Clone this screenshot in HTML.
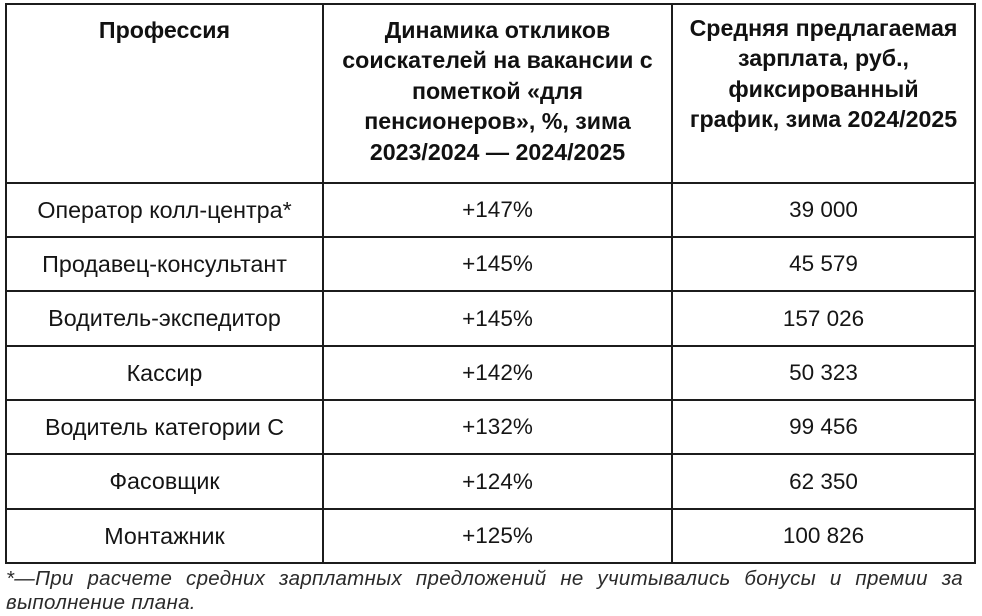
<!DOCTYPE html>
<html>
<head>
<meta charset="utf-8">
<style>
  html, body { margin:0; padding:0; background:#fff; }
  body { width:982px; height:616px; position:relative; overflow:hidden;
         font-family:"Liberation Sans", Arial, sans-serif; color:#111; }
  .h { position:absolute; height:2px; background:#1c1c1c; }
  .v { position:absolute; width:2px; background:#1c1c1c; }
  .hd { position:absolute; top:15px; text-align:center; font-weight:bold;
        font-size:23.2px; line-height:30.4px; white-space:nowrap; color:#111; }
  .c { position:absolute; display:flex; align-items:center; justify-content:center;
       font-size:22.5px; white-space:nowrap; color:#151515; }
  .c1 { font-size:23.3px; }
  .fn { position:absolute; left:6px; font-style:italic; font-size:20.5px; color:#2a2a2a;
        white-space:nowrap; letter-spacing:0.3px; }
</style>
</head>
<body>
  <!-- horizontal lines -->
  <div class="h" style="left:5px;width:971px;top:3px;"></div>
  <div class="h" style="left:5px;width:971px;top:182px;"></div>
  <div class="h" style="left:5px;width:971px;top:236px;"></div>
  <div class="h" style="left:5px;width:971px;top:290px;"></div>
  <div class="h" style="left:5px;width:971px;top:345px;"></div>
  <div class="h" style="left:5px;width:971px;top:399px;"></div>
  <div class="h" style="left:5px;width:971px;top:453px;"></div>
  <div class="h" style="left:5px;width:971px;top:508px;"></div>
  <div class="h" style="left:5px;width:971px;top:562px;"></div>
  <!-- vertical lines -->
  <div class="v" style="left:5px;top:3px;height:561px;"></div>
  <div class="v" style="left:322px;top:3px;height:561px;"></div>
  <div class="v" style="left:671px;top:3px;height:561px;"></div>
  <div class="v" style="left:974px;top:3px;height:561px;"></div>

  <!-- header -->
  <div class="hd" style="left:7px;width:315px;top:15px;">Профессия</div>
  <div class="hd" style="left:324px;width:347px;top:15px;">Динамика откликов<br>соискателей на вакансии с<br>пометкой «для<br>пенсионеров», %, зима<br>2023/2024 — 2024/2025</div>
  <div class="hd" style="left:673px;width:301px;top:13px;">Средняя предлагаемая<br>зарплата, руб.,<br>фиксированный<br>график, зима 2024/2025</div>

  <!-- rows -->
  <div class="c c1" style="left:7px;width:315px;top:184px;height:52px;">Оператор колл-центра*</div>
  <div class="c" style="left:324px;width:347px;top:184px;height:52px;">+147%</div>
  <div class="c" style="left:673px;width:301px;top:184px;height:52px;">39 000</div>

  <div class="c c1" style="left:7px;width:315px;top:238px;height:52px;">Продавец-консультант</div>
  <div class="c" style="left:324px;width:347px;top:238px;height:52px;">+145%</div>
  <div class="c" style="left:673px;width:301px;top:238px;height:52px;">45 579</div>

  <div class="c c1" style="left:7px;width:315px;top:292px;height:53px;">Водитель-экспедитор</div>
  <div class="c" style="left:324px;width:347px;top:292px;height:53px;">+145%</div>
  <div class="c" style="left:673px;width:301px;top:292px;height:53px;">157 026</div>

  <div class="c c1" style="left:7px;width:315px;top:347px;height:52px;">Кассир</div>
  <div class="c" style="left:324px;width:347px;top:347px;height:52px;">+142%</div>
  <div class="c" style="left:673px;width:301px;top:347px;height:52px;">50 323</div>

  <div class="c c1" style="left:7px;width:315px;top:401px;height:52px;">Водитель категории С</div>
  <div class="c" style="left:324px;width:347px;top:401px;height:52px;">+132%</div>
  <div class="c" style="left:673px;width:301px;top:401px;height:52px;">99 456</div>

  <div class="c c1" style="left:7px;width:315px;top:455px;height:53px;">Фасовщик</div>
  <div class="c" style="left:324px;width:347px;top:455px;height:53px;">+124%</div>
  <div class="c" style="left:673px;width:301px;top:455px;height:53px;">62 350</div>

  <div class="c c1" style="left:7px;width:315px;top:510px;height:52px;">Монтажник</div>
  <div class="c" style="left:324px;width:347px;top:510px;height:52px;">+125%</div>
  <div class="c" style="left:673px;width:301px;top:510px;height:52px;">100 826</div>

  <!-- footnote -->
  <div class="fn" style="top:566px;width:957px;text-align:justify;text-align-last:justify;white-space:normal;line-height:26px;height:26px;overflow:hidden;">*—При расчете средних зарплатных предложений не учитывались бонусы и премии за</div>
  <div class="fn" style="top:590px;line-height:26px;">выполнение плана.</div>
</body>
</html>
